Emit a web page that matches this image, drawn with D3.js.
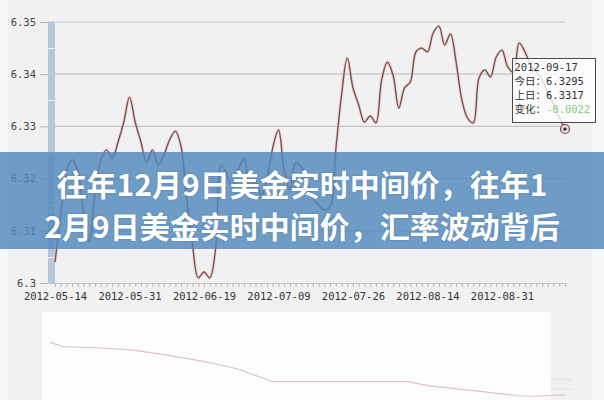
<!DOCTYPE html>
<html><head><meta charset="utf-8">
<script src="https://cdn.jsdelivr.net/npm/d3@7/dist/d3.min.js"></script>
<style>
html,body{margin:0;padding:0;background:#f7f8fa;}
svg{display:block;}
</style></head>
<body><svg id="c" width="604" height="400"></svg>
<script>
// ---------- data ----------
const dates = [
"2012-05-14","2012-05-15","2012-05-16","2012-05-17","2012-05-18",
"2012-05-21","2012-05-22","2012-05-23","2012-05-24","2012-05-25",
"2012-05-28","2012-05-29","2012-05-30","2012-05-31","2012-06-01",
"2012-06-04","2012-06-05","2012-06-06","2012-06-07","2012-06-08",
"2012-06-11","2012-06-12","2012-06-13","2012-06-14","2012-06-15",
"2012-06-18","2012-06-19","2012-06-20","2012-06-21",
"2012-06-25","2012-06-26","2012-06-27","2012-06-28","2012-06-29",
"2012-07-02","2012-07-03","2012-07-04","2012-07-05","2012-07-06",
"2012-07-09","2012-07-10","2012-07-11","2012-07-12","2012-07-13",
"2012-07-16","2012-07-17","2012-07-18","2012-07-19","2012-07-20",
"2012-07-23","2012-07-24","2012-07-25","2012-07-26","2012-07-27",
"2012-07-30","2012-07-31","2012-08-01","2012-08-02","2012-08-03",
"2012-08-06","2012-08-07","2012-08-08","2012-08-09","2012-08-10",
"2012-08-13","2012-08-14","2012-08-15","2012-08-16","2012-08-17",
"2012-08-20","2012-08-21","2012-08-22","2012-08-23","2012-08-24",
"2012-08-27","2012-08-28","2012-08-29","2012-08-30","2012-08-31",
"2012-09-03","2012-09-04","2012-09-05","2012-09-06","2012-09-07",
"2012-09-10","2012-09-11","2012-09-12","2012-09-13","2012-09-14",
"2012-09-17"];
const rates = [
6.3040,6.3130,6.3213,6.3236,6.3213,6.3136,6.3079,6.3174,6.3236,6.3255,
6.3239,6.3270,6.3308,6.3356,6.3308,6.3270,6.3230,6.3255,6.3226,6.3245,
6.3274,6.3291,6.3261,6.3159,6.3073,6.3010,6.3021,6.3010,6.3063,6.3226,
6.3207,6.3184,6.3216,6.3239,6.3169,6.3197,6.3167,6.3201,6.3259,6.3293,
6.3216,6.3178,6.3230,6.3222,6.3188,6.3163,6.3149,6.3140,6.3146,6.3255,
6.3360,6.3431,6.3374,6.3341,6.3308,6.3320,6.3307,6.3389,6.3423,6.3398,
6.3335,6.3374,6.3385,6.3443,6.3450,6.3443,6.3479,6.3492,6.3456,6.3477,
6.3423,6.3351,6.3316,6.3307,6.3393,6.3408,6.3395,6.3433,6.3446,6.3414,
6.3404,6.3460,6.3443,6.3418,6.3404,6.3389,6.3366,6.3343,6.3317,6.3295];
const xTickLabels = ["2012-05-14","2012-05-31","2012-06-19","2012-07-09","2012-07-26","2012-08-14","2012-08-31"];
const yTicks = [6.30, 6.31, 6.32, 6.33, 6.34, 6.35];
const tipLines = ["2012-09-17", "今日：", "上日：", "变化："];
const tipValues = ["", "6.3295", "6.3317", "-0.0022"];
const navDates = ["2005-05-16","2005-07-21","2006-01-16","2006-07-17","2007-01-15","2007-07-16","2008-01-15","2008-07-15","2010-06-18","2010-10-15","2011-01-14","2011-07-15","2012-01-16","2012-04-16","2012-07-16","2012-09-17"];
const navRates = [8.2765,8.11,8.07,7.99,7.80,7.58,7.30,6.83,6.83,6.67,6.60,6.46,6.31,6.29,6.32,6.33];
const titleLines = ["往年12月9日美金实时中间价，往年1", "2月9日美金实时中间价，汇率波动背后"];

// ---------- drawing ----------
const svg = d3.select("#c");
const L = 55, R = 565, T = 22, B = 283;
const x = d3.scalePoint().domain(dates).range([L, R]);
const y = d3.scaleLinear().domain([6.30, 6.35]).range([B, T]);

// panel background
svg.append("rect").attr("x", 8).attr("y", 0).attr("width", 584).attr("height", 400).attr("fill", "#f1f1f1");

// gridlines
svg.append("g").selectAll("line").data(yTicks.filter(d => d > 6.30)).join("line")
  .attr("x1", 47).attr("x2", R).attr("y1", d => y(d)).attr("y2", d => y(d))
  .attr("stroke", "#c4c4c4").attr("stroke-width", 1.2);

// left bar
svg.append("rect").attr("x", 48).attr("y", T).attr("width", 7).attr("height", B - T).attr("fill", "#b7c8d8");
svg.append("g").selectAll("line").data(d3.range(6.305, 6.35, 0.01)).join("line")
  .attr("x1", 48).attr("x2", 55).attr("y1", d => Math.round(y(d)) + 0.5).attr("y2", d => Math.round(y(d)) + 0.5)
  .attr("stroke", "#eef2f6").attr("stroke-width", 1);

// y axis
const yAxis = d3.axisLeft(y).tickValues(yTicks).tickSize(7).tickPadding(4)
  .tickFormat(d => d === 6.30 ? "6.3" : d.toFixed(2));
const gy = svg.append("g").attr("transform", "translate(47,0)").call(yAxis);
gy.select(".domain").remove();
gy.selectAll("line").attr("stroke", "#b0b0b0");
gy.selectAll("text").attr("fill", "#444").style("font", "10.5px 'DejaVu Sans Mono', monospace");

// x axis
const xAxis = d3.axisBottom(x).tickValues(dates).tickSize(4).tickPadding(6)
  .tickFormat(d => xTickLabels.includes(d) ? d : "");
const gx = svg.append("g").attr("transform", `translate(0,${B})`).call(xAxis);
gx.select(".domain").attr("d", `M${47},0.5H${R}`).attr("stroke", "#c4c4c4");
gx.selectAll("line").attr("stroke", "#b8b8b8");
gx.selectAll("text").attr("fill", "#333").style("font", "10.5px 'DejaVu Sans Mono', monospace");

// main line
const line = d3.line().x((d, i) => x(dates[i])).y(d => y(d)).curve(d3.curveCatmullRom.alpha(0.5));
svg.append("path").datum(rates).attr("d", line).attr("fill", "none")
  .attr("stroke", "#e8cccc").attr("stroke-width", 3.2).attr("opacity", 0.7);
svg.append("path").datum(rates).attr("d", line).attr("fill", "none")
  .attr("stroke", "#7e5050").attr("stroke-width", 1.4);

// navigator panel
const nx = d3.scaleTime().domain([new Date(navDates[0]), new Date(navDates[navDates.length - 1])]).range([50, 565]);
const ny = d3.scaleLinear().domain([6.30, 8.28]).range([396, 342]);
svg.append("rect").attr("x", 42).attr("y", 312).attr("width", 509).attr("height", 88).attr("fill", "#fdfdfd");
svg.append("g").selectAll("line").data([6.55, 6.9]).join("line")
  .attr("x1", 551).attr("x2", 572).attr("y1", d => ny(d)).attr("y2", d => ny(d))
  .attr("stroke", "#e2e2e2");
svg.append("path").datum(navRates)
  .attr("d", d3.line().x((d, i) => nx(new Date(navDates[i]))).y(d => ny(d)))
  .attr("fill", "none").attr("stroke", "#dcc6c6").attr("stroke-width", 1.2);

// tooltip
const last = rates.length - 1;
const tip = svg.append("g").attr("transform", "translate(512.5,58.5)");
tip.append("rect").attr("width", 83).attr("height", 64).attr("fill", "rgba(255,255,255,0.78)")
  .attr("stroke", "#4a4a4a").attr("stroke-width", 1);
tipLines.forEach((t, i) => {
  const tx = tip.append("text").attr("x", 2).attr("y", 12 + i * 14)
    .style("font", "10.5px 'DejaVu Sans Mono', 'Noto Sans CJK SC', monospace").attr("fill", "#333");
  tx.append("tspan").text(t);
  if (tipValues[i]) tx.append("tspan").text(tipValues[i])
    .attr("fill", i === 3 ? "#7fd07f" : "#333");
});
svg.append("circle").attr("cx", x(dates[last])).attr("cy", y(rates[last])).attr("r", 4.5)
  .attr("fill", "#ecd6da").attr("stroke", "#7a4455").attr("stroke-width", 1.2);
svg.append("circle").attr("cx", x(dates[last])).attr("cy", y(rates[last])).attr("r", 1.6).attr("fill", "#222");

// banner
svg.append("rect").attr("x", 0).attr("y", 152).attr("width", 604).attr("height", 97)
  .attr("fill", "rgb(82,137,188)").attr("opacity", 0.82);
titleLines.forEach((t, i) => {
  svg.append("text").attr("x", 302).attr("y", 183 + i * 42).attr("text-anchor", "middle")
    .attr("dominant-baseline", "central").attr("fill", "#fff")
    .style("font", "bold 30px 'Noto Sans CJK SC', sans-serif")
    .style("text-shadow", "0 0 2px rgba(40,70,110,0.4)")
    .text(t);
});
</script></body></html>
